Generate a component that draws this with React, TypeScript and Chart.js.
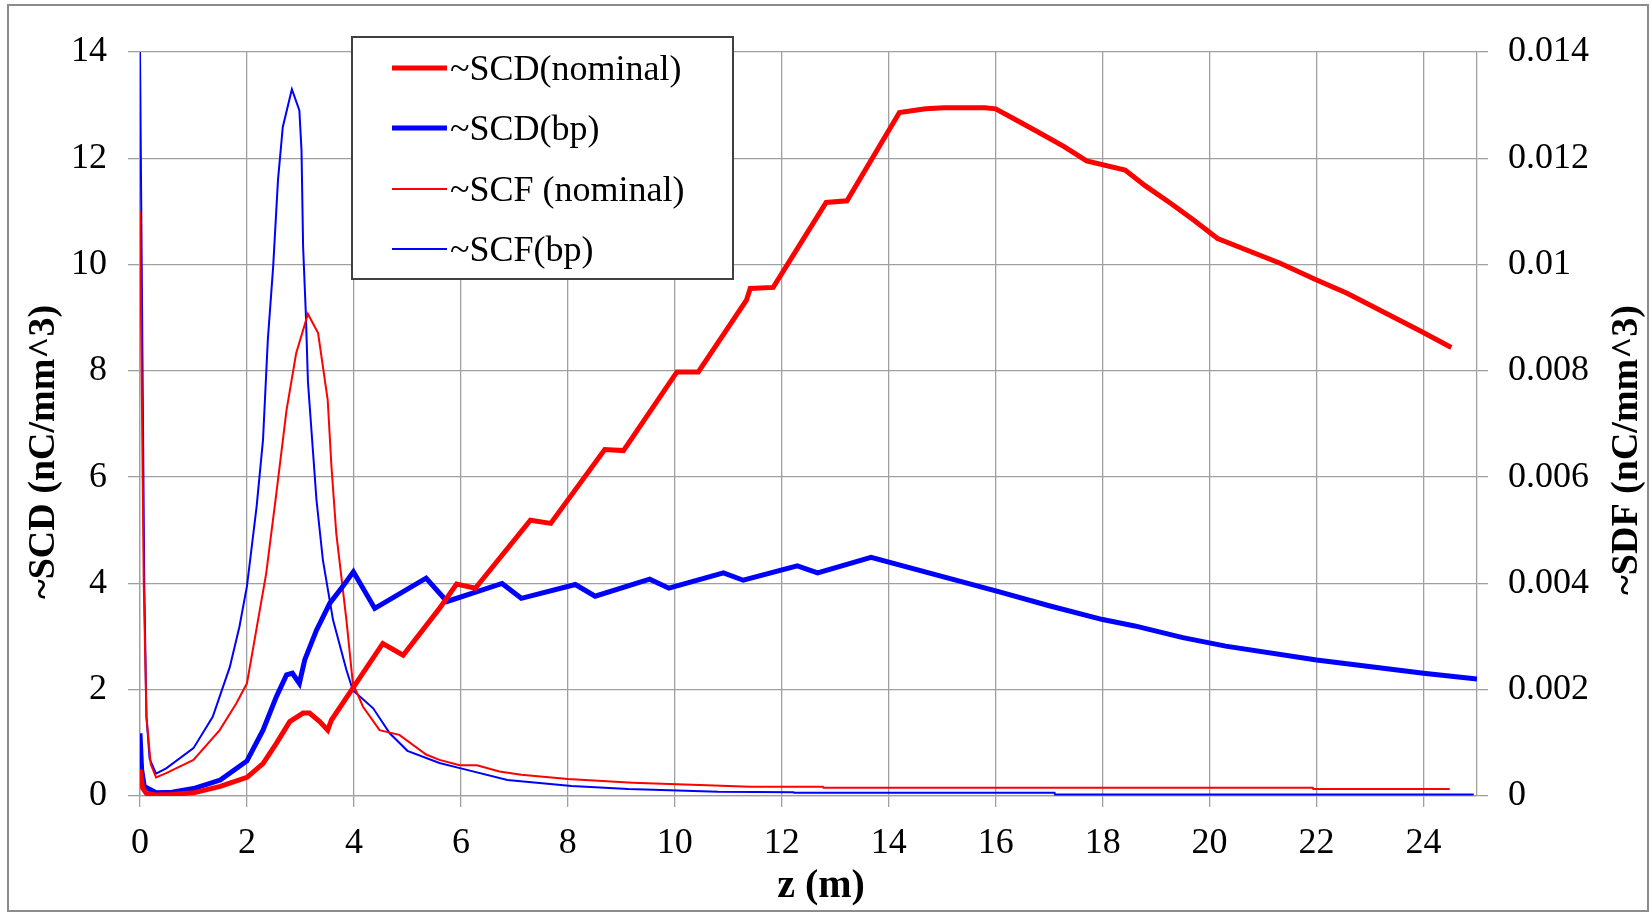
import React, { useEffect, useRef } from "react";
import { Chart, registerables } from "chart.js";

Chart.register(...registerables);

// ~SCD(nominal) – thick red, left axis
const scdNomZ = [0, 0.05, 0.12, 0.3, 0.6, 1.0, 1.5, 2.0, 2.3, 2.55, 2.8, 3.05, 3.17, 3.36, 3.51, 3.58, 3.98, 4.54, 4.92, 5.6, 5.92, 6.27, 7.3, 7.68, 8.69, 9.04, 10.04, 10.44, 11.34, 11.41, 11.84, 12.83, 13.22, 14.2, 14.69, 15.03, 15.8, 16.0, 16.4, 16.8, 17.28, 17.7, 18.42, 18.8, 19.29, 19.7, 20.15, 21.33, 21.98, 22.57, 23.96, 24.52];
const scdNomV = [0.5, 0.15, 0.05, 0.02, 0.03, 0.06, 0.18, 0.35, 0.61, 0.99, 1.4, 1.56, 1.56, 1.4, 1.24, 1.43, 2.03, 2.87, 2.65, 3.53, 3.99, 3.91, 5.19, 5.13, 6.52, 6.5, 7.98, 7.98, 9.33, 9.55, 9.57, 11.17, 11.2, 12.86, 12.93, 12.95, 12.95, 12.93, 12.71, 12.49, 12.22, 11.95, 11.78, 11.48, 11.14, 10.84, 10.49, 10.02, 9.72, 9.46, 8.74, 8.44];

// ~SCD(bp) – thick blue, left axis
const scdBpZ = [0, 0.03, 0.08, 0.3, 0.6, 1.0, 1.5, 2.0, 2.3, 2.55, 2.74, 2.85, 2.98, 3.08, 3.3, 3.55, 3.79, 3.99, 4.39, 5.35, 5.74, 6.77, 7.13, 8.14, 8.51, 9.53, 9.89, 10.91, 11.28, 12.29, 12.67, 13.67, 16.07, 17.0, 18.0, 18.6, 19.5, 20.3, 22.0, 24.0, 25.0];
const scdBpV = [1.18, 0.5, 0.18, 0.06, 0.07, 0.14, 0.3, 0.66, 1.24, 1.87, 2.28, 2.31, 2.12, 2.56, 3.12, 3.63, 3.94, 4.22, 3.53, 4.1, 3.66, 4.0, 3.72, 3.98, 3.76, 4.08, 3.91, 4.2, 4.06, 4.33, 4.2, 4.49, 3.84, 3.58, 3.32, 3.2, 2.98, 2.82, 2.56, 2.31, 2.2];

// ~SCF (nominal) – thin red, right axis
const scfNomZ = [0, 0.03, 0.07, 0.12, 0.2, 0.3, 0.49, 1.0, 1.49, 1.8, 2.0, 2.36, 2.55, 2.74, 2.92, 3.14, 3.33, 3.51, 3.58, 3.67, 3.86, 3.98, 4.17, 4.48, 4.85, 5.35, 5.6, 5.98, 6.3, 6.72, 7.13, 8.0, 9.21, 10.6, 11.4, 12.77, 12.78, 21.93, 21.94, 24.49];
const scfNomV = [0.011, 0.008, 0.004, 0.0015, 0.0006, 0.00035, 0.00043, 0.00068, 0.00124, 0.00174, 0.00212, 0.00419, 0.0057, 0.00726, 0.00833, 0.00907, 0.00871, 0.00745, 0.0062, 0.00494, 0.00331, 0.00212, 0.00168, 0.00124, 0.00115, 0.00078, 0.00068, 0.00058, 0.00058, 0.00046, 0.0004, 0.00032, 0.00025, 0.0002, 0.000175, 0.000175, 0.000157, 0.000157, 0.00013, 0.00013];

// ~SCF(bp) – thin blue, right axis
const scfBpZ = [0, 0.04, 0.08, 0.12, 0.18, 0.3, 0.49, 1.0, 1.36, 1.68, 1.86, 2.0, 2.18, 2.3, 2.39, 2.49, 2.58, 2.67, 2.84, 2.98, 3.02, 3.05, 3.1, 3.14, 3.3, 3.42, 3.61, 3.86, 3.98, 4.36, 4.67, 5.0, 5.6, 6.0, 6.87, 8.07, 9.13, 9.9, 10.81, 12.22, 12.23, 17.1, 17.11, 24.94];
const scfBpV = [0.014, 0.009, 0.004, 0.0015, 0.0007, 0.00042, 0.00052, 0.0009, 0.00149, 0.00243, 0.00319, 0.00395, 0.00544, 0.0067, 0.00858, 0.00996, 0.01159, 0.01259, 0.0133, 0.0129, 0.01215, 0.01033, 0.0091, 0.0078, 0.00557, 0.00444, 0.00331, 0.00237, 0.00199, 0.00165, 0.00118, 0.00085, 0.00062, 0.00052, 0.0003, 0.00019, 0.00013, 0.00011, 0.00008, 0.00007, 0.00006, 0.00006, 0.00003, 0.00003];

const xTicks = [0, 2, 4, 6, 8, 10, 12, 14, 16, 18, 20, 22, 24];
const yTicks = [0, 2, 4, 6, 8, 10, 12, 14];
const y1Ticks = [0, 0.002, 0.004, 0.006, 0.008, 0.01, 0.012, 0.014];

const legendLabels = ["~SCD(nominal)", "~SCD(bp)", "~SCF (nominal)", "~SCF(bp)"];
const legendColors = ["#ff0000", "#0000ff", "#ff0000", "#0000ff"];
const legendWidths = [5, 5, 2, 2];

const xTitle = "z (m)";
const yTitle = "~SCD (nC/mm^3)";
const y1Title = "~SDF (nC/mm^3)";

const SERIF = "'Liberation Serif', 'Times New Roman', serif";
const GRID = "#a0a0a0";

const pts = (xs: number[], ys: number[]) => xs.map((x, i) => ({ x, y: ys[i] }));

const framePlugin = {
  id: "frame",
  beforeDraw(chart: any) {
    const ctx = chart.ctx;
    ctx.save();
    ctx.fillStyle = "#ffffff";
    ctx.fillRect(0, 0, chart.width, chart.height);
    ctx.strokeStyle = "#8c8c8c";
    ctx.lineWidth = 2;
    ctx.strokeRect(8, 5, 1640, 906);
    ctx.restore();
  },
  afterDraw(chart: any) {
    const ctx = chart.ctx;
    // axis titles
    ctx.save();
    ctx.fillStyle = "#000";
    ctx.textAlign = "center";
    ctx.textBaseline = "middle";
    ctx.font = `bold 40px ${SERIF}`;
    ctx.fillText(xTitle, 821, 887);
    ctx.font = `bold 38px ${SERIF}`;
    ctx.save();
    ctx.translate(44, 452);
    ctx.rotate(-Math.PI / 2);
    ctx.fillText(yTitle, 0, 0);
    ctx.restore();
    ctx.save();
    ctx.translate(1627, 450);
    ctx.rotate(-Math.PI / 2);
    ctx.fillText(y1Title, 0, 0);
    ctx.restore();
    ctx.restore();

    // legend
    ctx.save();
    const lx = 352, ly = 37, lw = 381, lh = 242;
    ctx.fillStyle = "#ffffff";
    ctx.fillRect(lx, ly, lw, lh);
    ctx.strokeStyle = "#404040";
    ctx.lineWidth = 2;
    ctx.strokeRect(lx, ly, lw, lh);
    const rows = [68, 128, 189, 249];
    ctx.font = `36px ${SERIF}`;
    ctx.textAlign = "left";
    ctx.textBaseline = "middle";
    legendLabels.forEach((lab, i) => {
      ctx.strokeStyle = legendColors[i];
      ctx.lineWidth = legendWidths[i];
      ctx.beginPath();
      ctx.moveTo(392, rows[i]);
      ctx.lineTo(447, rows[i]);
      ctx.stroke();
      ctx.fillStyle = "#000";
      ctx.fillText(lab, 450, rows[i] + 3);
    });
    ctx.restore();
  },
};

export default function App() {
  const ref = useRef<HTMLCanvasElement | null>(null);
  useEffect(() => {
    if (!ref.current) return;
    const chart = new Chart(ref.current, {
      type: "line",
      data: {
        datasets: [
          { label: legendLabels[0], data: pts(scdNomZ, scdNomV), borderColor: "#ff0000", borderWidth: 5, pointRadius: 0, yAxisID: "y", tension: 0 },
          { label: legendLabels[1], data: pts(scdBpZ, scdBpV), borderColor: "#0000ff", borderWidth: 5, pointRadius: 0, yAxisID: "y", tension: 0 },
          { label: legendLabels[2], data: pts(scfNomZ, scfNomV), borderColor: "#ff0000", borderWidth: 2, pointRadius: 0, yAxisID: "y1", tension: 0 },
          { label: legendLabels[3], data: pts(scfBpZ, scfBpV), borderColor: "#0000ff", borderWidth: 2, pointRadius: 0, yAxisID: "y1", tension: 0 },
        ],
      },
      options: {
        animation: false,
        responsive: false,
        devicePixelRatio: 1,
        layout: { padding: { top: 52, left: 0, right: 0, bottom: 0 } },
        plugins: { legend: { display: false }, tooltip: { enabled: false } },
        scales: {
          x: {
            type: "linear",
            min: 0,
            max: 25,
            afterBuildTicks: (s: any) => { s.ticks = xTicks.map((v) => ({ value: v })); },
            afterFit: (s: any) => { s.height = 117; },
            grid: { color: GRID, lineWidth: 1.3, tickLength: 11 },
            border: { display: true, color: GRID, width: 1.3 },
            ticks: { font: { family: SERIF, size: 36 }, color: "#000", padding: 15, maxRotation: 0, autoSkip: false },
          },
          y: {
            type: "linear",
            position: "left",
            min: 0,
            max: 14,
            afterBuildTicks: (s: any) => { s.ticks = yTicks.map((v) => ({ value: v })); },
            afterFit: (s: any) => { s.width = 140; },
            grid: { color: GRID, lineWidth: 1.3, tickLength: 12 },
            border: { display: true, color: GRID, width: 1.3 },
            ticks: { font: { family: SERIF, size: 36 }, color: "#000", padding: 21 },
          },
          y1: {
            type: "linear",
            position: "right",
            min: 0,
            max: 0.014,
            afterBuildTicks: (s: any) => { s.ticks = y1Ticks.map((v) => ({ value: v })); },
            afterFit: (s: any) => { s.width = 174; },
            grid: { color: GRID, lineWidth: 1.3, tickLength: 11, drawOnChartArea: false },
            border: { display: true, color: GRID, width: 1.3 },
            ticks: {
              font: { family: SERIF, size: 36 },
              color: "#000",
              padding: 20,
              callback: (v: any) => String(Number(Number(v).toFixed(3))),
            },
          },
        },
      },
      plugins: [framePlugin],
    });
    return () => chart.destroy();
  }, []);
  return (
    <div style={{ position: "absolute", left: 0, top: 0, width: 1651, height: 913 }}>
      <canvas ref={ref} width={1651} height={913} style={{ width: 1651, height: 913, display: "block" }} />
    </div>
  );
}
